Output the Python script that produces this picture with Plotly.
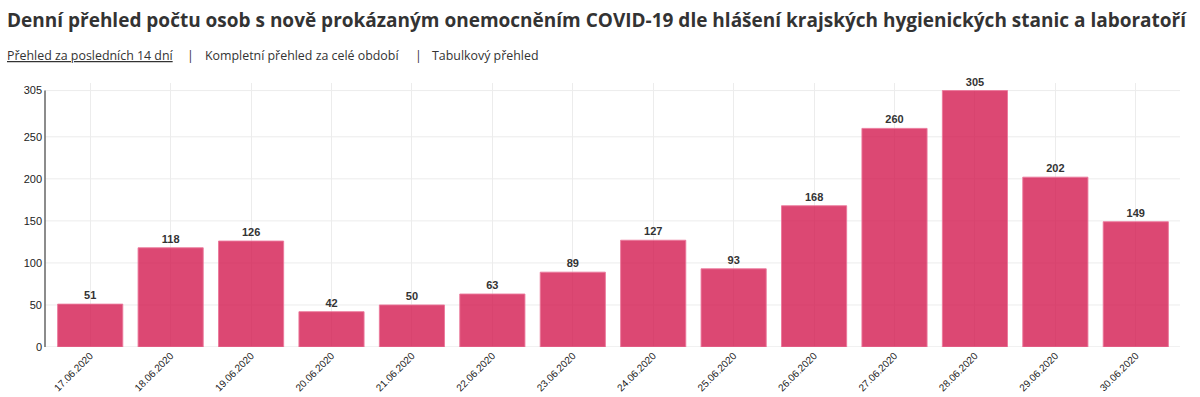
import plotly.graph_objects as go

dates = ["17.06.2020", "18.06.2020", "19.06.2020", "20.06.2020", "21.06.2020",
         "22.06.2020", "23.06.2020", "24.06.2020", "25.06.2020", "26.06.2020",
         "27.06.2020", "28.06.2020", "29.06.2020", "30.06.2020"]
cases = [51, 118, 126, 42, 50, 63, 89, 127, 93, 168, 260, 305, 202, 149]
ytick_vals = [0, 50, 100, 150, 200, 250, 305]
ytick_text = ["0", "50", "100", "150", "200", "250", "305"]

title = "Denní přehled počtu osob s nově prokázaným onemocněním COVID-19 dle hlášení krajských hygienických stanic a laboratoří"
links = ["<u>Přehled za posledních 14 dní</u>", "|", "Kompletní přehled za celé období", "|", "Tabulkový přehled"]
link_x = [5, 185, 203, 413, 430]

W, H = 1200, 397
ml, mr, mt, mb = 50, 24, 83, 50
pw = W - ml - mr
ph = H - mt - mb
axis_x = 45
grid_right = 1180

fig = go.Figure(go.Bar(
    x=dates, y=cases,
    marker=dict(color="rgba(210,20,75,0.78)", line=dict(color="rgba(235,120,155,0.9)", width=1)),
    text=[str(v) for v in cases], textposition="outside",
    textfont=dict(family="Arial, Liberation Sans", size=11, color="#333"),
    texttemplate="<b>%{text}</b>", cliponaxis=False,
))

fig.update_layout(
    width=W, height=H,
    margin=dict(l=ml, r=mr, t=mt, b=mb, pad=0, autoexpand=False),
    paper_bgcolor="white", plot_bgcolor="white",
    bargap=0.19,
    showlegend=False,
    font=dict(family="Arial, Liberation Sans", color="#222"),
    xaxis=dict(type="category", tickangle=-45, showgrid=True, gridcolor="#ececec",
               tickfont=dict(size=10, color="#222"), showline=False, ticks="",
               zeroline=False, automargin=False),
    yaxis=dict(range=[0, 314], tickvals=ytick_vals, ticktext=ytick_text,
               showgrid=False, zeroline=False,
               tickfont=dict(size=11, color="#222"), showline=False, ticks="",
               ticklabelstandoff=7, automargin=False),
)

x0p = (axis_x - ml) / pw
x1p = (grid_right - ml) / pw
for v in ytick_vals:
    fig.add_shape(type="line", xref="paper", yref="y", x0=x0p, x1=x1p, y0=v, y1=v,
                  line=dict(color="#e2e2e2" if v == 0 else "#ececec", width=1), layer="below")

fig.add_shape(type="line", xref="paper", yref="y", x0=x0p, x1=x0p, y0=0, y1=305,
              line=dict(color="#666", width=1.5))

fig.add_annotation(text="<b>" + title + "</b>", xref="paper", yref="paper",
                   x=(5 - ml) / pw, y=(H - mb - 20) / ph, xanchor="left", yanchor="middle",
                   showarrow=False, font=dict(family="Open Sans", size=19, color="#333"))

for t, lx in zip(links, link_x):
    fig.add_annotation(text=t, xref="paper", yref="paper",
                       x=(lx - ml) / pw, y=(H - mb - 56) / ph, xanchor="left", yanchor="middle",
                       showarrow=False, font=dict(family="Open Sans", size=12.4, color="#333"))

fig.write_html("out.html")
